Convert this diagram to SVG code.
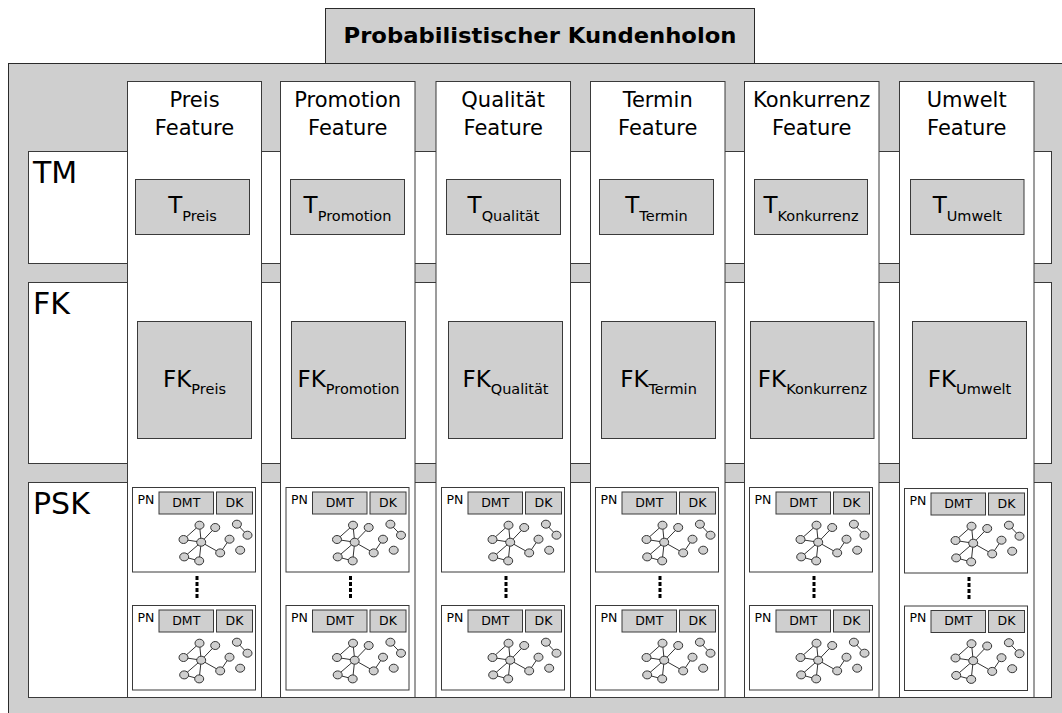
<svg xmlns="http://www.w3.org/2000/svg" xmlns:xlink="http://www.w3.org/1999/xlink" width="1062" height="713" viewBox="0 0 1062 713">
<style>
.bg{fill:#cfcfcf;stroke:#2a2a2a;stroke-width:1}
.w{fill:#ffffff;stroke:#3a3a3a;stroke-width:1}
.g{fill:#cfcfcf;stroke:#3a3a3a;stroke-width:1}
text{font-family:"DejaVu Sans","Verdana",sans-serif;fill:#000}
.title{font-size:21px;font-weight:bold}
.hdr{font-size:21px;text-anchor:middle}
.row{font-size:30px}
.lbl{font-size:23px;text-anchor:middle}
.sub{font-size:14.5px}
.pn{font-size:12.5px}
.sm{font-size:12.5px;text-anchor:middle}
.e{stroke:#333;stroke-width:1;fill:none}
.n{fill:#cfcfcf;stroke:#333;stroke-width:1}
.dots{stroke:#000;stroke-width:3;stroke-dasharray:4 2}
</style>
<defs>
<g id="pnbox">
<rect x="0" y="0" width="123" height="84.5" class="w"/>
<text x="5" y="16" class="pn">PN</text>
<rect x="26.5" y="4.5" width="54.5" height="22" class="g"/>
<text x="53.75" y="19" class="sm">DMT</text>
<rect x="84" y="4.5" width="36" height="22" class="g"/>
<text x="102" y="19" class="sm">DK</text>
<g class="e">
<line x1="67" y1="37.7" x2="51" y2="52"/>
<line x1="67" y1="37.7" x2="68.7" y2="54.7"/>
<line x1="51" y1="52" x2="68.7" y2="54.7"/>
<line x1="68.7" y1="54.7" x2="82.7" y2="40"/>
<line x1="68.7" y1="54.7" x2="87.7" y2="65.4"/>
<line x1="87.7" y1="65.4" x2="97" y2="51.7"/>
<line x1="68.7" y1="54.7" x2="51.7" y2="69.4"/>
<line x1="68.7" y1="54.7" x2="66.7" y2="73.4"/>
<line x1="51.7" y1="69.4" x2="66.7" y2="73.4"/>
<line x1="104.4" y1="36.7" x2="115" y2="47.7"/>
</g>
<g class="n">
<ellipse cx="67" cy="37.7" rx="4.5" ry="4"/>
<ellipse cx="82.7" cy="40" rx="4.5" ry="4"/>
<ellipse cx="51" cy="52" rx="4.5" ry="4"/>
<ellipse cx="68.7" cy="54.7" rx="4.5" ry="4"/>
<ellipse cx="97" cy="51.7" rx="4.5" ry="4"/>
<ellipse cx="87.7" cy="65.4" rx="4.5" ry="4"/>
<ellipse cx="51.7" cy="69.4" rx="4.5" ry="4"/>
<ellipse cx="66.7" cy="73.4" rx="4.5" ry="4"/>
<ellipse cx="104.4" cy="36.7" rx="4.5" ry="4"/>
<ellipse cx="115" cy="47.7" rx="4.5" ry="4"/>
<ellipse cx="107.7" cy="62.7" rx="4.5" ry="4"/>
</g>
</g>
</defs>

<g id="holon">
<rect x="8.5" y="63.5" width="1070" height="670" class="bg"/>
</g>
<g id="title">
<rect x="325.5" y="8.5" width="429" height="55" class="bg"/>
<text x="540" y="43" class="title" text-anchor="middle" textLength="393" lengthAdjust="spacingAndGlyphs">Probabilistischer Kundenholon</text>
</g>

<g id="row-TM">
<rect x="28.5" y="151.5" width="1023" height="112" class="w"/>
<text x="33" y="183" class="row">TM</text>
</g>
<g id="row-FK">
<rect x="28.5" y="282.5" width="1023" height="181" class="w"/>
<text x="33" y="314" class="row">FK</text>
</g>
<g id="row-PSK">
<rect x="28.5" y="482.5" width="1023" height="215" class="w"/>
<text x="33" y="513.5" class="row">PSK</text>
</g>

<g id="col-preis">
<rect x="127.5" y="81.5" width="134" height="616" class="w"/>
<text x="194.5" y="107" class="hdr">Preis</text>
<text x="194.5" y="135" class="hdr">Feature</text>
<rect x="135.5" y="179.5" width="114" height="55" class="g"/>
<text x="192.5" y="213.3" class="lbl">T<tspan class="sub" dy="7.5">Preis</tspan></text>
<rect x="137.5" y="321.5" width="114" height="117" class="g"/>
<text x="194.5" y="387.3" class="lbl">FK<tspan class="sub" dy="6.7">Preis</tspan></text>
<use xlink:href="#pnbox" x="132.5" y="487.5"/>
<line x1="197" y1="576" x2="197" y2="598" class="dots"/>
<use xlink:href="#pnbox" x="132.5" y="605.5"/>
</g>

<g id="col-promotion">
<rect x="280.5" y="81.5" width="134.5" height="616" class="w"/>
<text x="347.7" y="107" class="hdr">Promotion</text>
<text x="347.7" y="135" class="hdr">Feature</text>
<rect x="290.5" y="179.5" width="114" height="55" class="g"/>
<text x="347.5" y="213.3" class="lbl">T<tspan class="sub" dy="7.5">Promotion</tspan></text>
<rect x="291.5" y="321.5" width="114" height="117" class="g"/>
<text x="348.5" y="387.3" class="lbl">FK<tspan class="sub" dy="6.7">Promotion</tspan></text>
<use xlink:href="#pnbox" x="286" y="487.5"/>
<line x1="350.5" y1="576" x2="350.5" y2="598" class="dots"/>
<use xlink:href="#pnbox" x="286" y="605.5"/>
</g>

<g id="col-qualitaet">
<rect x="436" y="81.5" width="134.5" height="616" class="w"/>
<text x="503.2" y="107" class="hdr">Qualität</text>
<text x="503.2" y="135" class="hdr">Feature</text>
<rect x="446.5" y="179.5" width="114" height="55" class="g"/>
<text x="503.5" y="213.3" class="lbl">T<tspan class="sub" dy="7.5">Qualität</tspan></text>
<rect x="448.5" y="321.5" width="114" height="117" class="g"/>
<text x="505.5" y="387.3" class="lbl">FK<tspan class="sub" dy="6.7">Qualität</tspan></text>
<use xlink:href="#pnbox" x="441.5" y="487.5"/>
<line x1="506" y1="576" x2="506" y2="598" class="dots"/>
<use xlink:href="#pnbox" x="441.5" y="605.5"/>
</g>

<g id="col-termin">
<rect x="590.5" y="81.5" width="134.5" height="616" class="w"/>
<text x="657.7" y="107" class="hdr">Termin</text>
<text x="657.7" y="135" class="hdr">Feature</text>
<rect x="599.5" y="179.5" width="114" height="55" class="g"/>
<text x="656.5" y="213.3" class="lbl">T<tspan class="sub" dy="7.5">Termin</tspan></text>
<rect x="601.5" y="321.5" width="114" height="117" class="g"/>
<text x="658.5" y="387.3" class="lbl">FK<tspan class="sub" dy="6.7">Termin</tspan></text>
<use xlink:href="#pnbox" x="595.5" y="487.5"/>
<line x1="660" y1="576" x2="660" y2="598" class="dots"/>
<use xlink:href="#pnbox" x="595.5" y="605.5"/>
</g>

<g id="col-konkurrenz">
<rect x="744.5" y="81.5" width="134.5" height="616" class="w"/>
<text x="811.7" y="107" class="hdr">Konkurrenz</text>
<text x="811.7" y="135" class="hdr">Feature</text>
<rect x="754.5" y="179.5" width="113" height="55" class="g"/>
<text x="811" y="213.3" class="lbl">T<tspan class="sub" dy="7.5">Konkurrenz</tspan></text>
<rect x="750.5" y="321.5" width="123.5" height="117" class="g"/>
<text x="812.5" y="387.3" class="lbl">FK<tspan class="sub" dy="6.7">Konkurrenz</tspan></text>
<use xlink:href="#pnbox" x="749.5" y="487.5"/>
<line x1="814" y1="576" x2="814" y2="598" class="dots"/>
<use xlink:href="#pnbox" x="749.5" y="605.5"/>
</g>

<g id="col-umwelt">
<rect x="899.5" y="81.5" width="134.5" height="616" class="w"/>
<text x="966.7" y="107" class="hdr">Umwelt</text>
<text x="966.7" y="135" class="hdr">Feature</text>
<rect x="910.5" y="179.5" width="113.5" height="55" class="g"/>
<text x="967.3" y="213.3" class="lbl">T<tspan class="sub" dy="7.5">Umwelt</tspan></text>
<rect x="912.5" y="321.5" width="114" height="117" class="g"/>
<text x="969.5" y="387.3" class="lbl">FK<tspan class="sub" dy="6.7">Umwelt</tspan></text>
<use xlink:href="#pnbox" x="904.5" y="488.5"/>
<line x1="969" y1="577" x2="969" y2="599" class="dots"/>
<use xlink:href="#pnbox" x="904.5" y="606"/>
</g>

<g id="connectors"></g>
</svg>
